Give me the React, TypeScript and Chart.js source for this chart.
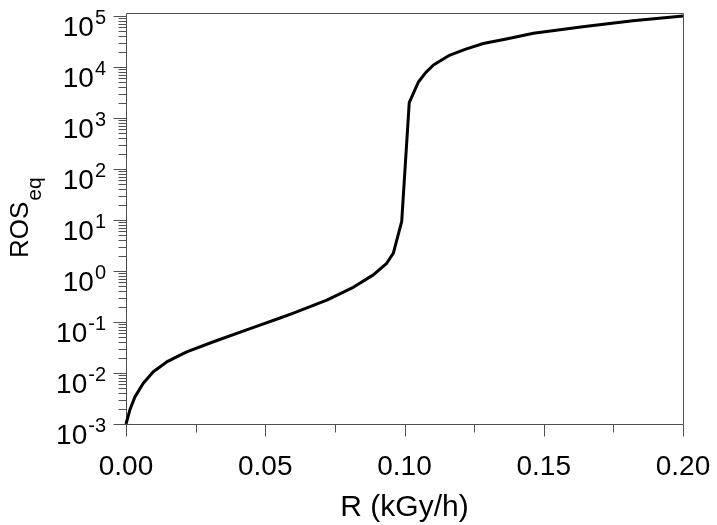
import React, { useEffect, useRef } from 'react';
import { Chart, registerables } from 'chart.js';

Chart.register(...registerables);

// ---- data ----
const R = [
  0, 0.0014, 0.0032, 0.0062, 0.0098, 0.0146, 0.0218, 0.0314, 0.0433, 0.0481,
  0.0553, 0.0601, 0.0721, 0.0816, 0.0888, 0.0936, 0.096, 0.099, 0.1017, 0.105,
  0.1076, 0.1104, 0.1163, 0.122, 0.1283, 0.137, 0.1463, 0.164, 0.182, 0.2,
];
const ROS = [
  0.001, 0.0019, 0.0034, 0.0063, 0.0106, 0.0165, 0.026, 0.041, 0.07, 0.087,
  0.12, 0.15, 0.27, 0.48, 0.84, 1.42, 2.24, 9.4, 2000, 5100,
  7800, 11000, 17200, 22500, 29000, 36000, 46000, 62000, 81000, 100000,
];

const xMajorTicks = [0, 0.05, 0.1, 0.15, 0.2];
const xTickLabels = ['0.00', '0.05', '0.10', '0.15', '0.20'];
const xMinorTicks = [0.025, 0.075, 0.125, 0.175];
const yExponents = [-3, -2, -1, 0, 1, 2, 3, 4, 5];
const yMinorMultipliers = [2, 3, 4, 5, 6, 7, 8, 9];
const xTitle = 'R (kGy/h)';
const yTitleMain = 'ROS';
const yTitleSub = 'eq';

const FONT = '"Liberation Sans", Arial, Helvetica, sans-serif';
const AXIS_COLOR = '#505050';
const TEXT_COLOR = '#000000';

const axesPlugin = {
  id: 'customAxes',
  beforeDatasetsDraw(chart: any) {
    const { ctx, chartArea: a } = chart;
    const xs = chart.scales.x;
    const ys = chart.scales.y;
    const L = Math.round(a.left) + 0.5;
    const Rt = Math.round(a.right) + 0.5;
    const T = Math.round(a.top) + 0.5;
    const B = Math.round(a.bottom) + 0.5;
    ctx.save();
    ctx.strokeStyle = AXIS_COLOR;
    ctx.lineWidth = 1;
    ctx.beginPath();
    ctx.rect(L, T, Rt - L, B - T);
    ctx.stroke();

    // y ticks
    ctx.beginPath();
    yExponents.forEach((e) => {
      const py = Math.round(ys.getPixelForValue(Math.pow(10, e))) + 0.5;
      ctx.moveTo(L - 13, py);
      ctx.lineTo(L, py);
      if (e < yExponents[yExponents.length - 1]) {
        yMinorMultipliers.forEach((m) => {
          const my = Math.round(ys.getPixelForValue(m * Math.pow(10, e))) + 0.5;
          ctx.moveTo(L - 8, my);
          ctx.lineTo(L, my);
        });
      }
    });
    // x ticks
    xMajorTicks.forEach((v) => {
      const px = Math.round(xs.getPixelForValue(v)) + 0.5;
      ctx.moveTo(px, B);
      ctx.lineTo(px, B + 12);
    });
    xMinorTicks.forEach((v) => {
      const px = Math.round(xs.getPixelForValue(v)) + 0.5;
      ctx.moveTo(px, B);
      ctx.lineTo(px, B + 8);
    });
    ctx.stroke();

    ctx.fillStyle = TEXT_COLOR;
    // y tick labels 10^e
    const rightEdge = a.left - 20;
    yExponents.forEach((e) => {
      const py = ys.getPixelForValue(Math.pow(10, e));
      const sup = String(e);
      ctx.font = `20px ${FONT}`;
      const supW = ctx.measureText(sup).width;
      ctx.textAlign = 'right';
      ctx.textBaseline = 'alphabetic';
      ctx.fillText(sup, rightEdge, py + 8);
      ctx.font = `28px ${FONT}`;
      ctx.fillText('10', rightEdge - supW - 1, py + 20);
    });

    // x tick labels
    ctx.font = `28px ${FONT}`;
    ctx.textAlign = 'center';
    ctx.textBaseline = 'alphabetic';
    xMajorTicks.forEach((v, i) => {
      const px = xs.getPixelForValue(v);
      ctx.fillText(xTickLabels[i], px, B + 50);
    });

    // x title
    ctx.font = `30px ${FONT}`;
    ctx.fillText(xTitle, (a.left + a.right) / 2, 516);

    // y title with subscript
    ctx.save();
    ctx.translate(28, 258);
    ctx.rotate(-Math.PI / 2);
    ctx.textAlign = 'left';
    ctx.font = `26px ${FONT}`;
    ctx.fillText(yTitleMain, 0, 0);
    const w = ctx.measureText(yTitleMain).width;
    ctx.font = `21px ${FONT}`;
    ctx.fillText(yTitleSub, w + 1, 13);
    ctx.restore();

    ctx.restore();
  },
};

export default function App() {
  const ref = useRef<HTMLCanvasElement | null>(null);
  useEffect(() => {
    if (!ref.current) return;
    const chart = new Chart(ref.current, {
      type: 'line',
      data: {
        datasets: [
          {
            data: R.map((r, i) => ({ x: r, y: ROS[i] })),
            borderColor: '#000000',
            borderWidth: 3,
            borderJoinStyle: 'round',
            pointRadius: 0,
            tension: 0,
            fill: false,
            clip: false as any,
          },
        ],
      },
      options: {
        animation: false,
        responsive: true,
        maintainAspectRatio: false,
        layout: { padding: { left: 126, right: 34, top: 13, bottom: 101 } },
        plugins: { legend: { display: false }, tooltip: { enabled: false } },
        scales: {
          x: { type: 'linear', min: 0, max: 0.2, display: false },
          y: { type: 'logarithmic', min: 0.001, max: 1.15e5, display: false },
        },
      },
      plugins: [axesPlugin],
    });
    return () => chart.destroy();
  }, []);
  return (
    <div style={{ position: 'absolute', left: 0, top: 0, width: 717, height: 525, background: '#fff' }}>
      <canvas ref={ref} />
    </div>
  );
}
